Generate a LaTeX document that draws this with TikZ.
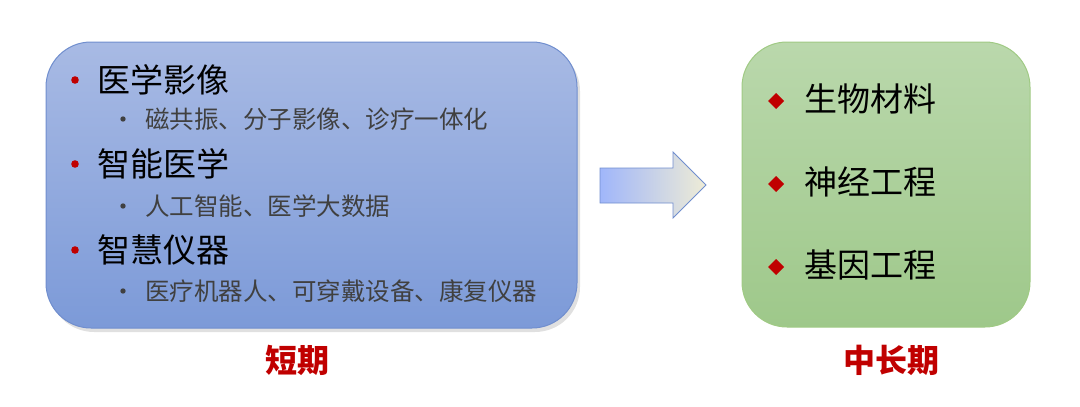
\documentclass[tikz,border=0pt]{standalone}
\usepackage{fontspec}
\setmainfont{Noto Sans CJK SC}
\usepackage{tikz}

\definecolor{blueTop}{RGB}{168,186,228}
\definecolor{blueBot}{RGB}{124,154,216}
\definecolor{blueLine}{RGB}{112,142,206}
\definecolor{greenTop}{RGB}{186,216,172}
\definecolor{greenBot}{RGB}{158,200,138}
\definecolor{greenLine}{RGB}{160,202,132}
\definecolor{darkRed}{RGB}{192,0,0}
\definecolor{subGray}{RGB}{64,64,64}
\definecolor{arrowL}{RGB}{160,182,250}
\definecolor{arrowR}{RGB}{238,236,214}

\tikzset{
  mainitem/.style={anchor=west,inner sep=0pt,font=\fontsize{33}{37}\selectfont},
  subitem/.style={anchor=west,inner sep=0pt,text=subGray,font=\fontsize{24.5}{28}\selectfont},
  rightitem/.style={anchor=west,inner sep=0pt,font=\fontsize{33}{37}\selectfont},
  termlabel/.style={inner sep=0pt,text=darkRed,font=\fontsize{32}{36}\selectfont\bfseries},
}

\begin{document}
\begin{tikzpicture}[x=1pt,y=-1pt]
  \useasboundingbox (0,0) rectangle (1080,407);
  % left box with shadow
  \fill[black!12,rounded corners=45] (49,46) rectangle (580,332);
  \shade[top color=blueTop,bottom color=blueBot,rounded corners=45] (46,42) rectangle (577,328);
  \draw[blueLine,line width=1,rounded corners=45] (46,42) rectangle (577,328);
  % right box
  \shade[top color=greenTop,bottom color=greenBot,rounded corners=45] (742,42) rectangle (1030,327);
  \draw[greenLine,line width=1,rounded corners=45] (742,42) rectangle (1030,327);
  % arrow
  \shade[left color=arrowL,right color=arrowR,draw=blueLine,line width=0.8]
    (600,168) -- (673,168) -- (673,152) -- (706,185) -- (673,218) -- (673,203) -- (600,203) -- cycle;

  % short term items
  \node[mainitem] (imaging) at (97,80) {医学影像};
  \node[subitem] (imagingsub) at (145,119) {磁共振、分子影像、诊疗一体化};
  \node[mainitem] (smartmed) at (97,164) {智能医学};
  \node[subitem] (smartmedsub) at (145,206) {人工智能、医学大数据};
  \node[mainitem] (instr) at (97,250) {智慧仪器};
  \node[subitem] (instrsub) at (145,291) {医疗机器人、可穿戴设备、康复仪器};
  \foreach \n in {imaging,smartmed,instr}
    \fill[darkRed] ([xshift=-22pt]\n.west) circle (3.8);
  \foreach \n in {imagingsub,smartmedsub,instrsub}
    \fill[subGray] ([xshift=-22pt]\n.west) circle (2.7);

  % long term items
  \node[rightitem] (biomat) at (804,99) {生物材料};
  \node[rightitem] (neuro) at (804,182) {神经工程};
  \node[rightitem] (gene) at (804,265) {基因工程};
  \foreach \n in {biomat,neuro,gene}
    \fill[darkRed] ([xshift=-28pt,yshift=-2pt]\n.west) +(0,-8) -- +(8,0) -- +(0,8) -- +(-8,0) -- cycle;

  % period labels
  \node[termlabel] (shortterm) at (297,360) {短期};
  \node[termlabel] (longterm) at (891,360) {中长期};
\end{tikzpicture}
\end{document}
